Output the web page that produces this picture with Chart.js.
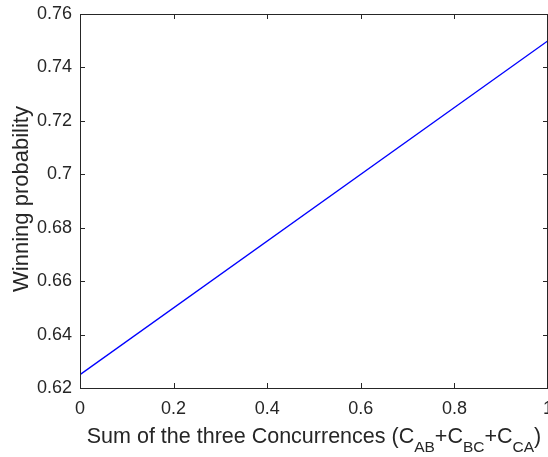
<!DOCTYPE html>
<html>
<head>
<meta charset="utf-8">
<script src="https://cdn.jsdelivr.net/npm/chart.js@4"></script>
<style>
  html, body { margin: 0; padding: 0; background: #fff; }
  #wrap { width: 548px; height: 457px; }
</style>
</head>
<body>
<div id="wrap"><canvas id="mycanvas" width="548" height="457"></canvas></div>
<script>
// winning probability vs. total concurrence
var concurrence = [0, 1];
var winProb = [0.625, 0.75];
var xTicks = [0, 0.2, 0.4, 0.6, 0.8, 1];
var yTicks = [0.62, 0.64, 0.66, 0.68, 0.7, 0.72, 0.74, 0.76];

var ink = '#262626';
var fontFamily = '"Liberation Sans", Arial, Helvetica, sans-serif';

// box around the axes, inward ticks on all sides, and the axis titles
var matlabAxes = {
  id: 'matlabAxes',
  afterDraw: function(chart) {
    var c = chart.ctx, a = chart.chartArea;
    var xs = chart.scales.x, ys = chart.scales.y;
    var tl = 5;
    c.save();
    c.strokeStyle = ink;
    c.lineWidth = 1;
    c.beginPath();
    c.rect(Math.round(a.left) + 0.5, Math.round(a.top) + 0.5,
           Math.round(a.right - a.left) - 1, Math.round(a.bottom - a.top));
    xTicks.forEach(function(v) {
      var px = Math.min(Math.round(xs.getPixelForValue(v)), Math.round(a.right) - 1) + 0.5;
      c.moveTo(px, a.bottom); c.lineTo(px, a.bottom - tl);
      c.moveTo(px, a.top); c.lineTo(px, a.top + tl);
    });
    yTicks.forEach(function(v) {
      var py = Math.round(ys.getPixelForValue(v)) + 0.5;
      c.moveTo(a.left, py); c.lineTo(a.left + tl, py);
      c.moveTo(a.right, py); c.lineTo(a.right - tl, py);
    });
    c.stroke();

    c.fillStyle = ink;
    // y title
    c.save();
    c.translate(28, (a.top + a.bottom) / 2 - 2);
    c.rotate(-Math.PI / 2);
    c.font = '22px ' + fontFamily;
    c.textAlign = 'center';
    c.textBaseline = 'alphabetic';
    c.fillText('Winning probability', 0, 0);
    c.restore();

    // x title with subscripts
    var parts = [
      ['Sum of the three Concurrences (C', 0], ['AB', 1], ['+C', 0],
      ['BC', 1], ['+C', 0], ['CA', 1], [')', 0]
    ];
    var big = '21.5px ' + fontFamily, small = '15.5px ' + fontFamily;
    var total = 0;
    parts.forEach(function(p) { c.font = p[1] ? small : big; total += c.measureText(p[0]).width; });
    var x = (a.left + a.right) / 2 - total / 2;
    var base = 443;
    c.textAlign = 'left';
    c.textBaseline = 'alphabetic';
    parts.forEach(function(p) {
      c.font = p[1] ? small : big;
      c.fillText(p[0], x, p[1] ? base + 9 : base);
      x += c.measureText(p[0]).width;
    });
    c.restore();
  }
};

var ctx = document.getElementById('mycanvas');
var chart = new Chart(ctx, {
  type: 'line',
  data: {
    datasets: [{
      label: 'Winning probability',
      data: concurrence.map(function(x, i) { return { x: x, y: winProb[i] }; }),
      borderColor: '#0000ff',
      borderWidth: 1.3,
      pointRadius: 0,
      fill: false,
      tension: 0
    }]
  },
  options: {
    responsive: false,
    animation: false,
    devicePixelRatio: 1,
    layout: { padding: { top: 14, right: 0, left: 0, bottom: 0 } },
    plugins: { legend: { display: false }, tooltip: { enabled: false } },
    scales: {
      x: {
        type: 'linear',
        min: 0, max: 1,
        afterFit: function(s) {
          s.height = 69;
          s.paddingLeft = 0; s.paddingRight = 0;
        },
        afterBuildTicks: function(s) { s.ticks = xTicks.map(function(v) { return { value: v }; }); },
        grid: { display: false, drawTicks: false },
        border: { display: false },
        ticks: {
          color: ink, padding: 10, maxRotation: 0, autoSkip: false,
          font: { family: fontFamily, size: 18 },
          callback: function(v) { return String(v); }
        }
      },
      y: {
        type: 'linear',
        min: 0.62, max: 0.76,
        afterFit: function(s) {
          s.width = 80;
          s.paddingTop = 0; s.paddingBottom = 0;
        },
        afterBuildTicks: function(s) { s.ticks = yTicks.map(function(v) { return { value: v }; }); },
        grid: { display: false, drawTicks: false },
        border: { display: false },
        ticks: {
          color: ink, padding: 8, autoSkip: false,
          font: { family: fontFamily, size: 18 },
          callback: function(v) { return String(Math.round(v * 100) / 100); }
        }
      }
    }
  },
  plugins: [matlabAxes]
});
</script>
</body>
</html>
